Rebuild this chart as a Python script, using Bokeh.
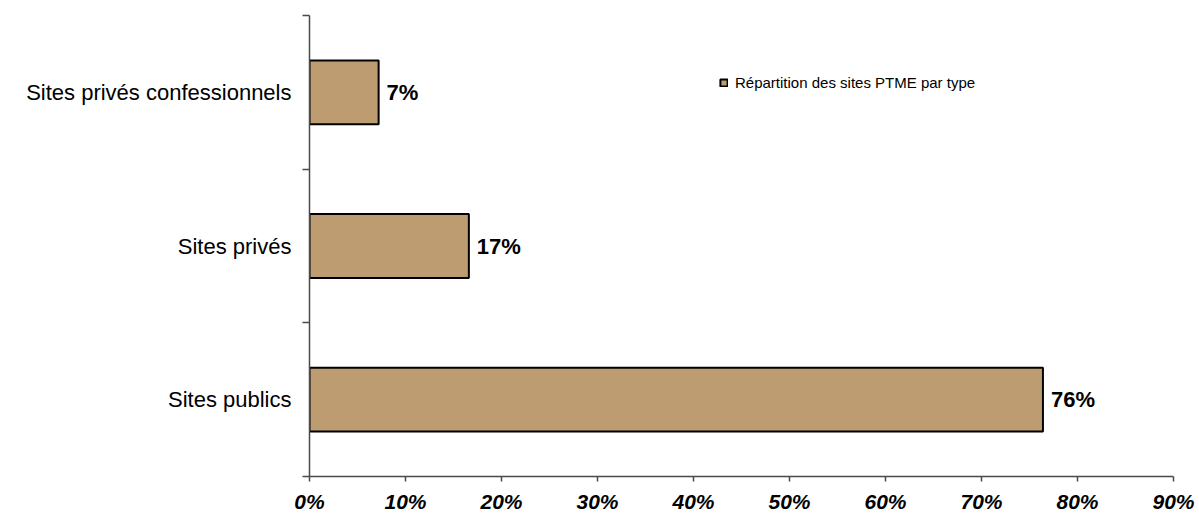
from bokeh.plotting import figure
from bokeh.models import (ColumnDataSource, FixedTicker, Range1d, Legend, LegendItem)
from bokeh.embed import file_html
from bokeh.resources import INLINE
from bokeh.core.properties import value

categories = ["Sites publics", "Sites privés", "Sites privés confessionnels"]
shares = [76.4, 16.6, 7.2]          # percent
value_labels = ["76%", "17%", "7%"]
x_ticks = [0, 10, 20, 30, 40, 50, 60, 70, 80, 90]
x_tick_labels = {t: f"{t}%" for t in x_ticks}
legend_label = "Répartition des sites PTME par type"

pos = [i + 0.5 for i in range(len(categories))]
src = ColumnDataSource(dict(y=pos, right=shares, lab=value_labels))

FONT = "Liberation Sans"
AXIS_COL = "#4a4a4a"

p = figure(width=1199, height=515, output_backend="svg", toolbar_location=None,
           x_range=Range1d(0, 90), y_range=Range1d(0, len(categories)),
           min_border_left=309, min_border_right=26, min_border_top=15, min_border_bottom=38)
p.outline_line_color = None
p.xgrid.visible = False
p.ygrid.visible = False

bars = p.hbar(y="y", left=0, right="right", height=0.415, source=src,
              fill_color="#bd9c72", line_color="black", line_width=2)

p.text(x="right", y="y", text="lab", source=src, x_offset=8,
       text_font=value(FONT), text_font_size="22px", text_font_style="bold",
       text_baseline="middle", text_align="left", text_color="black")

# x axis
xa = p.xaxis[0]
xa.ticker = FixedTicker(ticks=x_ticks)
xa.major_label_overrides = {t: s for t, s in x_tick_labels.items()}
xa.major_label_text_font = FONT
xa.major_label_text_font_size = "21px"
xa.major_label_text_font_style = "bold italic"
xa.major_label_text_color = "black"
xa.major_tick_in = 0
xa.major_tick_out = 5
xa.minor_tick_in = 0
xa.minor_tick_out = 0
xa.major_label_standoff = 8
xa.axis_line_color = AXIS_COL
xa.major_tick_line_color = AXIS_COL
xa.axis_line_width = 1.5
xa.major_tick_line_width = 1.5

# y axis: labels at centers, tick marks at boundaries
ya = p.yaxis[0]
ya.ticker = FixedTicker(ticks=pos, minor_ticks=list(range(len(categories) + 1)))
ya.major_label_overrides = {pv: c for pv, c in zip(pos, categories)}
ya.major_label_text_font = FONT
ya.major_label_text_font_size = "22px"
ya.major_label_text_color = "black"
ya.major_tick_in = 0
ya.major_tick_out = 0
ya.minor_tick_in = 0
ya.minor_tick_out = 7
ya.minor_tick_line_color = AXIS_COL
ya.minor_tick_line_width = 1.5
ya.major_label_standoff = 11
ya.axis_line_color = AXIS_COL
ya.axis_line_width = 1.5

legend = Legend(items=[LegendItem(label=legend_label, renderers=[bars])],
                location=(410, 385), padding=0, margin=0, spacing=0,
                glyph_width=9, glyph_height=9, label_height=9, label_standoff=7,
                label_text_font=FONT, label_text_font_size="15px",
                label_text_color="black",
                border_line_alpha=0, background_fill_alpha=0)
p.add_layout(legend, "center")

open("out.html", "w").write(file_html(p, INLINE))
